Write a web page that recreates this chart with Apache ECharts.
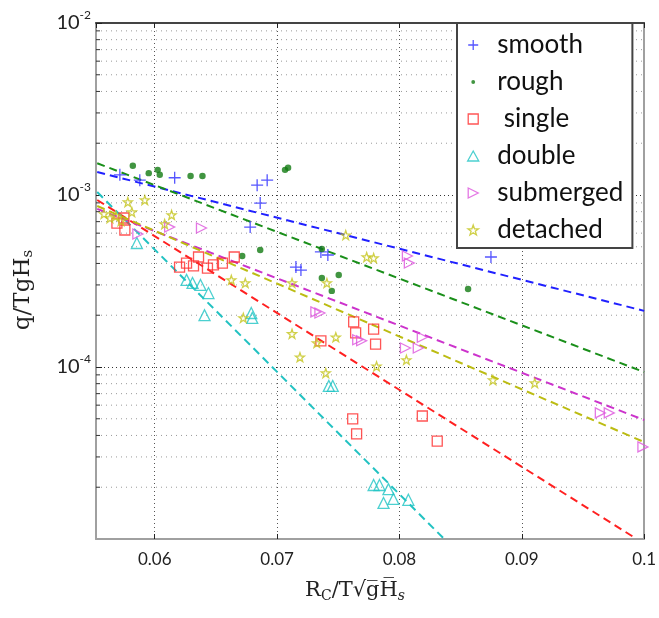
<!DOCTYPE html>
<html><head><meta charset="utf-8">
<script src="https://cdn.jsdelivr.net/npm/echarts@6/dist/echarts.min.js"></script>
<style>html,body{margin:0;padding:0;background:#fff}#c{width:659px;height:618px}</style>
</head><body><div id="c"></div>
<script>
// ---- data (x = Rc/T·sqrt(gHs), y = q/TgHs) ----
const seriesNames = ['smooth', 'rough', ' single', 'double', 'submerged', 'detached'];
const smooth = [[0.05715,1.31e-3],[0.05878,1.22e-3],[0.06163,1.26e-3],[0.06837,1.14e-3],[0.06919,1.22e-3],[0.06862,8.98e-4],[0.06780,6.51e-4],[0.07154,3.81e-4],[0.07195,3.66e-4],[0.07358,4.67e-4],[0.07415,4.48e-4],[0.08748,4.36e-4]];
const rough = [[0.05821,1.48e-3],[0.05951,1.34e-3],[0.06024,1.40e-3],[0.06041,1.31e-3],[0.06293,1.29e-3],[0.06390,1.29e-3],[0.07065,1.40e-3],[0.0709,1.44e-3],[0.06715,4.42e-4],[0.06862,4.79e-4],[0.07366,4.85e-4],[0.07366,3.29e-4],[0.07504,3.43e-4],[0.07447,2.77e-4],[0.08561,2.84e-4]];
const single = [[0.05691,6.87e-4],[0.05748,7.35e-4],[0.05756,6.26e-4],[0.06203,3.81e-4],[0.0626,4.02e-4],[0.06317,3.87e-4],[0.06358,4.36e-4],[0.06431,3.76e-4],[0.0648,3.92e-4],[0.06553,4.02e-4],[0.0665,4.36e-4],[0.07358,1.42e-4],[0.07626,1.83e-4],[0.07642,1.58e-4],[0.07789,1.66e-4],[0.07805,1.36e-4],[0.07618,4.99e-5],[0.0765,4.08e-5],[0.08187,5.19e-5],[0.08309,3.71e-5]];
const double = [[0.05854,5.26e-4],[0.0626,3.21e-4],[0.06309,3.08e-4],[0.06374,3.00e-4],[0.06439,2.69e-4],[0.06407,2.00e-4],[0.06789,2.06e-4],[0.06797,1.93e-4],[0.07423,7.76e-5],[0.07455,7.76e-5],[0.07789,2.06e-5],[0.07837,2.06e-5],[0.0791,1.95e-5],[0.07951,1.71e-5],[0.0787,1.62e-5],[0.08073,1.69e-5]];
const submerged = [[0.05862,5.93e-4],[0.06122,6.51e-4],[0.06382,6.43e-4],[0.07317,2.09e-4],[0.0735,2.06e-4],[0.07659,1.44e-4],[0.07691,1.42e-4],[0.08049,1.29e-4],[0.08154,1.29e-4],[0.08187,1.49e-4],[0.08065,4.42e-4],[0.08081,4.02e-4],[0.09642,5.41e-5],[0.09715,5.41e-5],[0.0999,3.43e-5]];
const detached = [[0.05585,7.77e-4],[0.05634,7.35e-4],[0.05683,7.55e-4],[0.05724,7.06e-4],[0.0578,9.10e-4],[0.05813,7.96e-4],[0.05919,9.35e-4],[0.06138,7.66e-4],[0.06081,6.78e-4],[0.06626,3.21e-4],[0.0674,3.08e-4],[0.06724,1.93e-4],[0.07122,3.08e-4],[0.07407,3.08e-4],[0.07561,5.85e-4],[0.07732,4.36e-4],[0.07789,4.30e-4],[0.07122,1.56e-4],[0.0748,1.49e-4],[0.07325,1.38e-4],[0.07187,1.14e-4],[0.07813,1.01e-4],[0.07398,9.23e-5],[0.08057,1.10e-4],[0.08764,8.40e-5],[0.09106,8.07e-5]];
// fitted trend lines (end points)
const fitSmooth = [[0.0553,1.36e-3],[0.1,2.12e-4]];
const fitRough = [[0.0553,1.53e-3],[0.1,9.35e-5]];
const fitSingle = [[0.0553,9.35e-4],[0.0993,1.01e-5]];
const fitDouble = [[0.0553,1.04e-3],[0.0836,1.01e-5]];
const fitSubmerged = [[0.0553,8.30e-4],[0.1,4.92e-5]];
const fitDetached = [[0.0553,8.63e-4],[0.1,3.66e-5]];
// axes
const xRange = [0.0552, 0.1];
const yRange = [1e-5, 1e-2];
const yMinorGrid = [2e-5,3e-5,4e-5,5e-5,6e-5,7e-5,8e-5,9e-5,2e-4,3e-4,4e-4,5e-4,6e-4,7e-4,8e-4,9e-4,2e-3,3e-3,4e-3,5e-3,6e-3,7e-3,8e-3,9e-3];

const colors = ['#2b2bff', '#127a12', '#ff2a2a', '#1fc4c4', '#dd55dd', '#c4c41c'];
const lineColors = ['#2020ff', '#1a8f1a', '#ff2020', '#22c2c2', '#cc33cc', '#bcbc12'];
const symbols = [
  'path://M0,5L10,5M5,0L5,10',
  'path://M0,0M10,10M3.1,5A1.9,1.9,0,1,1,6.9,5A1.9,1.9,0,1,1,3.1,5Z',
  'path://M0,0L10,0L10,10L0,10Z',
  'path://M5,0L10,9L0,9Z',
  'path://M0,0L10,5L0,10Z',
  'path://M5,0L6.176,3.382L9.755,3.455L6.902,5.618L7.939,9.045L5,7L2.061,9.045L3.098,5.618L0.245,3.455L3.824,3.382Z'
];
const sizes = [12, 17, 10, 11, 10, 9];
const pointSets = [smooth, rough, single, double, submerged, detached];
const fitSets = [fitSmooth, fitRough, fitSingle, fitDouble, fitSubmerged, fitDetached];

const series = [];
// minor log grid lines + minor ticks on the left axis
series.push({
  type: 'custom', silent: true, z: 1,
  data: yMinorGrid.map(v => [xRange[0], v]),
  encode: {x: 0, y: 1},
  renderItem: (params, api) => {
    const v = api.value(1);
    const p0 = api.coord([xRange[0], v]);
    const p1 = api.coord([xRange[1], v]);
    return {type: 'group', children: [
      {type: 'line', shape: {x1: p0[0], y1: p0[1], x2: p1[0], y2: p1[1]},
       style: {stroke: '#9a9a9a', lineDash: [1, 4], lineWidth: 1}},
      {type: 'line', shape: {x1: p0[0], y1: p0[1], x2: p0[0] + 4, y2: p0[1]},
       style: {stroke: '#333', lineWidth: 1}}
    ]};
  }
});
fitSets.forEach((d, i) => {
  series.push({
    type: 'line', data: d, symbol: 'none', silent: true, z: 2,
    lineStyle: {color: lineColors[i], width: 2, type: [8, 5]}
  });
});
pointSets.forEach((d, i) => {
  const filled = i === 1;
  series.push({
    type: 'scatter', name: seriesNames[i], data: d, z: 3,
    symbol: symbols[i], symbolSize: sizes[i],
    itemStyle: filled ? {color: colors[i], borderWidth: 0}
                      : {color: 'rgba(0,0,0,0)', borderColor: colors[i], borderWidth: 1.3}
  });
});

const chart = echarts.init(document.getElementById('c'), null, {renderer: 'canvas'});
chart.setOption({
  animation: false,
  backgroundColor: '#fff',
  grid: {left: 96, right: 13, top: 23, bottom: 79},
  legend: {
    orient: 'vertical', left: 457, top: 23,
    padding: [9, 9, 5, 10], itemWidth: 38, itemHeight: 10, itemGap: 11,
    backgroundColor: '#fff', borderColor: '#444', borderWidth: 2,
    textStyle: {fontFamily: 'Lato', fontSize: 26, lineHeight: 26, color: '#111'},
    itemStyle: {borderWidth: 1.3},
    data: seriesNames.map((n, i) => i === 1 ? {name: n, itemStyle: {borderWidth: 0}} : n)
  },
  xAxis: [{
    type: 'value', min: xRange[0], max: xRange[1], position: 'bottom',
    axisLine: {show: true, lineStyle: {color: '#a0a0a0', width: 2}},
    axisTick: {show: true, inside: true, length: 5, lineStyle: {color: '#222'}},
    axisLabel: {showMinLabel: false, color: '#222', fontSize: 17, fontFamily: 'Lato', margin: 12},
    splitLine: {show: true, lineStyle: {color: '#555', type: [1, 3], width: 1}},
    name: '{n|R}{sub|C}{n|/T√}{n|g\u0305H\u0305}{subi|s}',
    nameLocation: 'middle', nameGap: 40,
    nameTextStyle: {
      padding: [0, 30, 0, 0],
      rich: {
        n: {fontFamily: 'DejaVu Serif', fontSize: 21, color: '#222'},
        sub: {fontFamily: 'DejaVu Serif', fontSize: 14, color: '#222', padding: [10, 0, 0, 0]},
        subi: {fontFamily: 'DejaVu Serif', fontStyle: 'italic', fontSize: 14, color: '#222', padding: [10, 0, 0, 0]}
      }
    }
  }, {
    type: 'value', min: xRange[0], max: xRange[1], position: 'top',
    axisLine: {show: true, lineStyle: {color: '#444', width: 2}},
    axisTick: {show: true, inside: true, length: 5, lineStyle: {color: '#222'}},
    axisLabel: {show: false}, splitLine: {show: false}
  }],
  yAxis: [{
    type: 'log', logBase: 10, min: yRange[0], max: yRange[1],
    axisLine: {show: true, lineStyle: {color: '#a0a0a0', width: 2}},
    axisTick: {show: true, inside: true, length: 6, lineStyle: {color: '#222'}},
    axisLabel: {
      showMinLabel: false, margin: 5,
      formatter: v => '{b|10}{s|' + Math.round(Math.log10(v)) + '}',
      rich: {
        b: {fontFamily: 'Lato', fontSize: 20, color: '#222'},
        s: {fontFamily: 'Lato', fontSize: 12, color: '#222', padding: [0, 0, 16, 0]}
      }
    },
    splitLine: {show: true, lineStyle: {color: '#333', type: [1, 3], width: 1}},
    name: '{n|q/TgH}{sub|s}', nameLocation: 'middle', nameGap: 60, nameRotate: 90,
    nameTextStyle: {
      padding: [0, 18, 0, 0],
      rich: {
        n: {fontFamily: 'DejaVu Serif', fontSize: 23, color: '#222'},
        sub: {fontFamily: 'DejaVu Serif', fontSize: 15, color: '#222', padding: [10, 0, 0, 0]}
      }
    }
  }, {
    type: 'log', logBase: 10, min: yRange[0], max: yRange[1], position: 'right',
    axisLine: {show: true, lineStyle: {color: '#a0a0a0', width: 2}},
    axisTick: {show: false}, axisLabel: {show: false}, splitLine: {show: false}
  }],
  series: series
});
</script></body></html>
